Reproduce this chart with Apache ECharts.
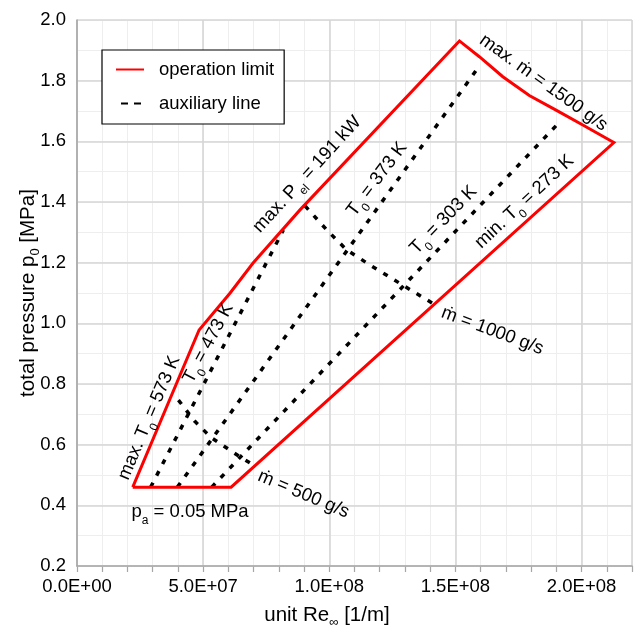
<!DOCTYPE html>
<html>
<head>
<meta charset="utf-8">
<script src="https://cdn.jsdelivr.net/npm/echarts@6/dist/echarts.min.js"></script>
<style>
  html, body { margin: 0; padding: 0; background: #fff; }
  #chart { width: 636px; height: 628px; }
</style>
</head>
<body>
<div id="chart"></div>
<script>
// Operating envelope: unit Reynolds number vs. total pressure
// Points are [unit Re (1/m), p0 (MPa)].

// Outer limit of the operating range (closed polygon)
const operationLimit = [
  [2.21e7, 0.46], [6.11e7, 0.46], [21.28e7, 1.596],
  [20.05e7, 1.654], [18.99e7, 1.703], [17.93e7, 1.751],
  [16.88e7, 1.813], [15.95e7, 1.879], [15.16e7, 1.931],
  [8.84e7, 1.374], [6.98e7, 1.199], [6.07e7, 1.100],
  [4.84e7, 0.978], [2.21e7, 0.46]
];

// Auxiliary lines: constant total temperature
const lineT473 = [[2.92e7, 0.46], [8.18e7, 1.308]];
const lineT373 = [[3.98e7, 0.46], [15.92e7, 1.845]];
const lineT303 = [[5.34e7, 0.46], [19.02e7, 1.654]];

// Auxiliary lines: constant mass flow
const lineM500 = [[4.02e7, 0.747], [4.68e7, 0.676], [5.34e7, 0.622], [6.46e7, 0.560], [7.06e7, 0.530]];
const lineM1000 = [[9.04e7, 1.387], [9.90e7, 1.308], [10.69e7, 1.242], [11.62e7, 1.192], [13.01e7, 1.121], [14.08e7, 1.067]];

const auxLines = [lineT473, lineT373, lineT303, lineM500, lineM1000];

// Axis ranges
const xMin = 0, xMax = 2.2e8, xMajor = 5e7, xMinor = 1e7;
const yMin = 0.2, yMax = 2.0, yMajor = 0.2, yMinor = 0.1;

const FONT = '"Liberation Sans", Arial, sans-serif';
const FS = 18.5;
const FS_NAME = 20.5;

// Text annotations along the lines (anchor in data coordinates, angle in degrees)
const notes = [
  { text: '{n|max. T}{s|0}{n| = 573 K}', at: [2.95e7, 0.685], angle: 67 },
  { text: '{n|T}{s|0}{n| = 473 K}', at: [5.29e7, 0.930], angle: 62 },
  { text: '{n|max. P}{s|el}{n| = 191 kW}', at: [9.20e7, 1.485], angle: 47.5 },
  { text: '{n|T}{s|0}{n| = 373 K}', at: [11.97e7, 1.470], angle: 53 },
  { text: '{n|T}{s|0}{n| = 303 K}', at: [14.60e7, 1.335], angle: 46 },
  { text: '{n|min. T}{s|0}{n| = 273 K}', at: [17.80e7, 1.395], angle: 43 },
  { text: '{n|max. ṁ = 1500 g/s}', at: [18.53e7, 1.797], angle: -35.7 },
  { text: '{n|ṁ = 1000 g/s}', at: [16.49e7, 0.980], angle: -20.5 },
  { text: '{n|ṁ = 500 g/s}', at: [9.0e7, 0.441], angle: -23 },
  { text: '{n|p}{s|a}{n| = 0.05 MPa}', at: [4.48e7, 0.370], angle: 0 }
];

function richFor(size) {
  return {
    n: { fontSize: size, fontFamily: FONT, color: '#000', lineHeight: 16, verticalAlign: 'top' },
    s: { fontSize: Math.round(size * 0.65), fontFamily: FONT, color: '#000', lineHeight: 24, verticalAlign: 'bottom' }
  };
}
const richSub = richFor(FS);
const richName = richFor(FS_NAME);

function sci(v) {
  if (v === 0) return '0.0E+00';
  const e = Math.floor(Math.log10(v) + 1e-9);
  const m = v / Math.pow(10, e);
  return m.toFixed(1) + 'E+' + String(e).padStart(2, '0');
}

const chart = echarts.init(document.getElementById('chart'), null, { renderer: 'canvas' });

const auxSeries = auxLines.map(pts => ({
  name: 'auxiliary line',
  type: 'line',
  data: pts,
  xAxisIndex: 0, yAxisIndex: 0,
  symbol: 'none',
  silent: true,
  z: 3,
  itemStyle: { color: '#000' },
  lineStyle: { color: '#000', width: 3.5, type: [5, 8], cap: 'butt' }
}));

chart.setOption({
  animation: false,
  backgroundColor: '#fff',
  textStyle: { fontFamily: FONT },
  grid: { left: 77, right: 4, top: 20, bottom: 62, containLabel: false, outerBoundsMode: 'none' },
  legend: {
    orient: 'vertical',
    left: 102, top: 50,
    backgroundColor: '#fff',
    borderColor: '#000', borderWidth: 1.2,
    padding: [10, 10, 11, 13],
    itemGap: 15,
    itemWidth: 28, itemHeight: 14,
    itemStyle: { opacity: 0 },
    textStyle: { fontSize: FS, fontFamily: FONT, color: '#000', padding: [0, 0, 0, 10] },
    data: [
      { name: 'operation limit' },
      { name: 'auxiliary line', lineStyle: { type: [7, 6], dashOffset: 8 } }
    ]
  },
  xAxis: [
    {
      type: 'value', min: xMin, max: xMax, interval: xMajor, position: 'bottom', z: 1,
      name: '{n|unit Re}{s|∞}{n| [1/m]}', nameLocation: 'middle', nameGap: 39,
      nameTextStyle: { rich: richName, padding: [0, 55, 0, 0] },
      axisLine: { show: true, lineStyle: { color: '#a6a6a6', width: 1.6 } },
      axisTick: { show: false },
      axisLabel: { fontSize: FS, fontFamily: FONT, color: '#000', margin: 11, showMaxLabel: false, formatter: sci },
      splitLine: { show: true, lineStyle: { color: '#d6d6d6', width: 1.6 } }
    },
    {
      type: 'value', min: xMin, max: xMax, interval: xMinor, position: 'bottom', z: 0,
      axisLine: { show: false },
      axisTick: { show: true, length: 6, lineStyle: { color: '#a6a6a6', width: 1.2 } },
      axisLabel: { show: false },
      splitLine: { show: true, lineStyle: { color: '#eeeeee', width: 1 } }
    }
  ],
  yAxis: [
    {
      type: 'value', min: yMin, max: yMax, interval: yMajor, position: 'left', z: 1,
      name: '{n|total pressure p}{s|0}{n| [MPa]}', nameLocation: 'middle', nameGap: 35,
      nameMoveOverlap: false,
      nameTextStyle: { rich: richName },
      axisLine: { show: true, lineStyle: { color: '#a6a6a6', width: 1.6 } },
      axisTick: { show: false },
      axisLabel: { fontSize: FS, fontFamily: FONT, color: '#000', margin: 11, formatter: v => v.toFixed(1) },
      splitLine: { show: true, lineStyle: { color: '#d6d6d6', width: 1.6 } }
    },
    {
      type: 'value', min: yMin, max: yMax, interval: yMinor, position: 'left', z: 0,
      axisLine: { show: false }, axisTick: { show: false }, axisLabel: { show: false },
      splitLine: { show: true, lineStyle: { color: '#eeeeee', width: 1 } }
    }
  ],
  series: [
    {
      name: 'operation limit',
      type: 'line',
      data: operationLimit,
      xAxisIndex: 0, yAxisIndex: 0,
      symbol: 'none',
      silent: true,
      z: 4,
      itemStyle: { color: '#ff0000' },
      lineStyle: { color: '#ff0000', width: 3, join: 'miter' }
    }
  ].concat(auxSeries)
});

// Place the annotations at their data anchors
const graphics = notes.map(nt => {
  const p = chart.convertToPixel({ xAxisIndex: 0, yAxisIndex: 0 }, nt.at);
  return {
    type: 'text',
    x: p[0], y: p[1],
    rotation: nt.angle * Math.PI / 180,
    z: 10,
    style: {
      text: nt.text,
      rich: richSub,
      fontSize: FS, fontFamily: FONT, fill: '#000',
      align: 'center', verticalAlign: 'middle'
    }
  };
});
chart.setOption({ graphic: graphics });
</script>
</body>
</html>
